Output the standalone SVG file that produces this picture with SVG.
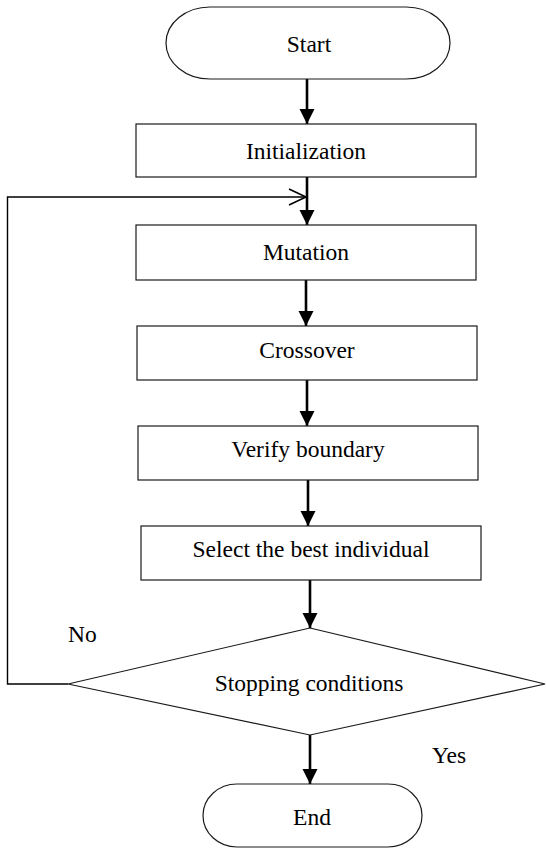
<svg xmlns="http://www.w3.org/2000/svg" width="546" height="848" viewBox="0 0 546 848">
  <style>
    .box { fill: #ffffff; stroke: #1a1a1a; stroke-width: 1.2; }
    .lbl { font-family: "Liberation Serif", "Times New Roman", serif; font-size: 23.5px; fill: #000000; text-anchor: middle; }
    .side { font-family: "Liberation Serif", "Times New Roman", serif; font-size: 23.5px; fill: #000000; }
    .flow { fill: none; stroke: #000000; stroke-width: 2.6; }
    .loop { fill: none; stroke: #000000; stroke-width: 1.4; }
  </style>
  <defs>
    <marker id="arrow" markerUnits="userSpaceOnUse" markerWidth="16" markerHeight="18" refX="15" refY="7.5" orient="auto">
      <path d="M0,0 L15,7.5 L0,15 Z" fill="#000000"/>
    </marker>
    <marker id="open" markerUnits="userSpaceOnUse" markerWidth="20" markerHeight="20" refX="18" refY="9" orient="auto">
      <path d="M1,1 L18,9 L1,17" fill="none" stroke="#000000" stroke-width="1.6"/>
    </marker>
  </defs>

  <g id="connectors">
    <line class="flow" x1="307" y1="79" x2="307" y2="124" marker-end="url(#arrow)"/>
    <line class="flow" x1="307" y1="177" x2="307" y2="225" marker-end="url(#arrow)"/>
    <line class="flow" x1="306" y1="280" x2="306" y2="326" marker-end="url(#arrow)"/>
    <line class="flow" x1="307" y1="380" x2="307" y2="426" marker-end="url(#arrow)"/>
    <line class="flow" x1="308" y1="480" x2="308" y2="526" marker-end="url(#arrow)"/>
    <line class="flow" x1="310" y1="580" x2="310" y2="628" marker-end="url(#arrow)"/>
    <line class="flow" x1="310" y1="735" x2="310" y2="784" marker-end="url(#arrow)"/>
    <polyline class="loop" points="68,684 7.5,684 7.5,197 306,197" marker-end="url(#open)"/>
  </g>

  <g id="start">
    <rect class="box" x="166" y="7" width="284" height="72" rx="44" ry="36"/>
    <text class="lbl" x="309" y="52">Start</text>
  </g>
  <g id="initialization">
    <rect class="box" x="136" y="124" width="340" height="53"/>
    <text class="lbl" x="306" y="159">Initialization</text>
  </g>
  <g id="mutation">
    <rect class="box" x="136" y="225" width="340" height="55"/>
    <text class="lbl" x="306" y="260">Mutation</text>
  </g>
  <g id="crossover">
    <rect class="box" x="137" y="326" width="340" height="54"/>
    <text class="lbl" x="307" y="358">Crossover</text>
  </g>
  <g id="verify">
    <rect class="box" x="138" y="426" width="340" height="54"/>
    <text class="lbl" x="308" y="457">Verify boundary</text>
  </g>
  <g id="select">
    <rect class="box" x="141" y="526" width="340" height="54"/>
    <text class="lbl" x="311" y="557">Select the best individual</text>
  </g>
  <g id="stopping">
    <polygon class="box" points="310,628 545,684 310,735 68,684"/>
    <text class="lbl" x="309" y="691">Stopping conditions</text>
  </g>
  <g id="end">
    <rect class="box" x="203" y="784" width="219" height="63" rx="34" ry="31.5"/>
    <text class="lbl" x="312" y="825">End</text>
  </g>
  <g id="labels">
    <text class="side" x="68" y="642">No</text>
    <text class="side" x="432" y="763">Yes</text>
  </g>
</svg>
